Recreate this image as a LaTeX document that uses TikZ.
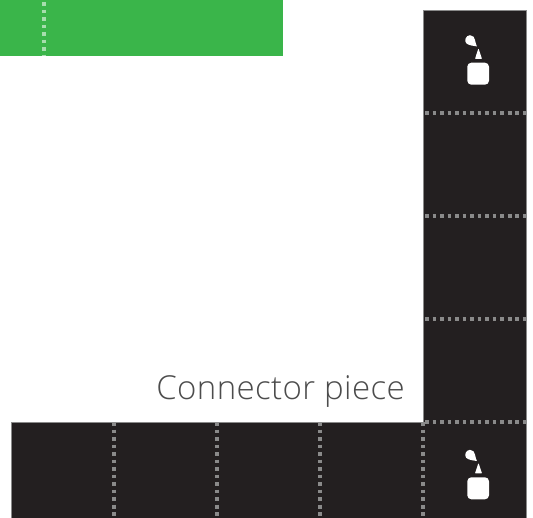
\documentclass[tikz,border=0pt]{standalone}
\usepackage{fontspec}
\newfontfamily\lab[LetterSpace=1.2]{Open Sans Light}
\definecolor{panel}{HTML}{231F20}
\definecolor{edge}{HTML}{8A8A8A}
\definecolor{leaf}{HTML}{3AB54A}
\tikzset{
  seam/.style={line width=3.6pt,dash pattern=on 3.8pt off 3.72pt,draw=#1},
  seam/.default={edge},
  panelbox/.style={fill=panel,draw=edge,line width=0.7pt},
  icon part/.style={fill=white,draw=none},
}
\newcommand{\nozzleicon}[2]{%
  \begin{scope}[shift={(#1,#2)}]
    \fill[icon part,rounded corners=4pt] (467.3,62.7) rectangle (489,84.7);
    \fill[icon part,rounded corners=0.6pt] (475,58.8) -- (482,58.8) -- (478.7,49) -- (478.2,49) -- cycle;
    \fill[icon part] (476.9,46.4) .. controls (473.5,45.8) and (468.8,45.6) .. (466.2,43.2)
       .. controls (464,40.8) and (465.6,35.4) .. (470,35.2)
       .. controls (473.2,35.2) and (474.6,37.6) .. (475,40) .. controls (475.4,42.5) and (476.2,44.6) .. (476.9,46.4) -- cycle;
  \end{scope}}
\begin{document}
\begin{tikzpicture}[x=1pt,y=-1pt]
\useasboundingbox (0,0) rectangle (533,517);
\fill[leaf] (0,0) rectangle (283,56);
\draw[seam=white!55!leaf] (44,2) -- (44,56);
\begin{scope}
\clip (0,0) rectangle (533,517);
\fill[panelbox] (423.5,10.3) -- (526.5,10.3) -- (526.5,530) -- (11,530) -- (11,422.3) -- (423.5,422.3) -- cycle;
\end{scope}
\foreach \yy in {113,216,319,422}
  \draw[seam] (425,\yy) -- (526.5,\yy);
\foreach \xx in {114,217,320,423}
  \draw[seam] (\xx,422) -- (\xx,517);
\nozzleicon{0}{0}
\nozzleicon{0}{414.6}
\node[anchor=base east,inner sep=0pt,text=black!70,font=\lab\fontsize{33}{36}\selectfont] (caption) at (405,399) {Connector piece};
\end{tikzpicture}
\end{document}
